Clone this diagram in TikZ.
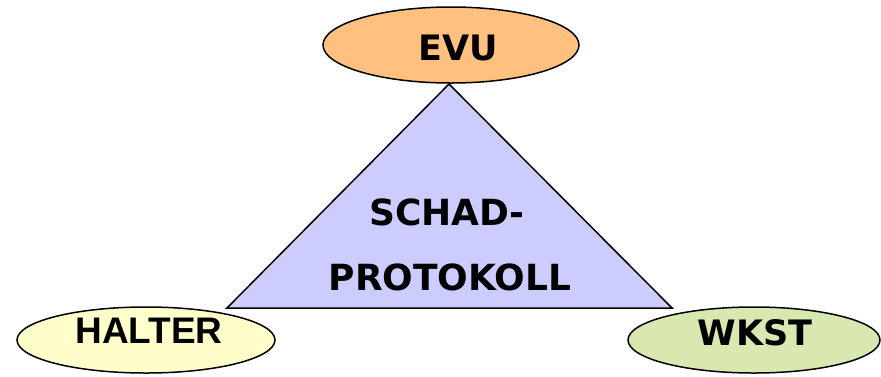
\documentclass[tikz,border=0pt]{standalone}
\usepackage{fontspec}
\newfontfamily\dvfont{DejaVu Sans}
\newfontfamily\arfont{Liberation Sans}
\definecolor{evuorange}{HTML}{FFC080}
\definecolor{halteryellow}{HTML}{FFFFCC}
\definecolor{wkstgreen}{HTML}{D8E8B0}
\definecolor{trilav}{HTML}{CCCCFF}
\begin{document}
\begin{tikzpicture}[x=1pt,y=-1pt,
  shapeline/.style={draw=black, line width=1.5pt},
  lbl/.style={anchor=base, inner sep=0pt, font=\dvfont\bfseries\fontsize{35}{40}\selectfont},
  biglbl/.style={lbl, font=\dvfont\bfseries\fontsize{36}{40}\selectfont},
  albl/.style={anchor=base, inner sep=0pt, font=\arfont\bfseries\fontsize{37}{40}\selectfont}]
\useasboundingbox (0,0) rectangle (881,376);
% triangle
\coordinate (apex) at (449,84);
\coordinate (bl) at (227,308);
\coordinate (br) at (672,308);
\draw[shapeline, fill=trilav, line join=miter] (apex) -- (bl) -- (br) -- cycle;
\node[biglbl] (schad) at (447,225) {SCHAD-};
\node[biglbl] (proto) at (450,290) {PROTOKOLL};
% ellipses
\draw[shapeline, fill=evuorange] (451,45) ellipse [x radius=128, y radius=38];
\node[lbl] (evu) at (458,60) {EVU};
\draw[shapeline, fill=halteryellow] (146,340) ellipse [x radius=129, y radius=33];
\node[albl] (halter) at (149,343) {HALTER};
\draw[shapeline, fill=wkstgreen] (754,340) ellipse [x radius=126, y radius=33];
\node[lbl] (wkst) at (755,345) {WKST};
\end{tikzpicture}
\end{document}
